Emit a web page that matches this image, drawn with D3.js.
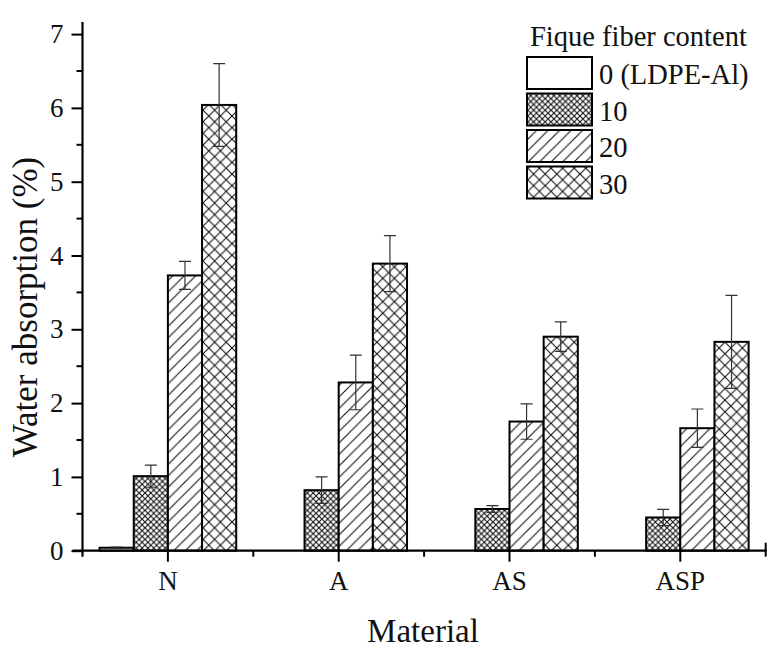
<!DOCTYPE html>
<html><head><meta charset="utf-8">
<script src="https://cdn.jsdelivr.net/npm/d3@7"></script>
<style>body{margin:0;background:#fff}svg{display:block}</style>
</head><body>
<svg id="c" width="775" height="656"></svg>
<script>
const categories = ["N", "A", "AS", "ASP"];
const series = ["0 (LDPE-Al)", "10", "20", "30"];
const values0 = [0.04, null, null, null];
const values10 = [1.01, 0.82, 0.565, 0.45];
const values20 = [3.73, 2.28, 1.75, 1.66];
const values30 = [6.04, 3.89, 2.90, 2.83];
const err0 = [0.01, null, null, null];
const err10 = [0.15, 0.18, 0.045, 0.11];
const err20 = [0.19, 0.37, 0.24, 0.26];
const err30 = [0.56, 0.38, 0.20, 0.63];
const yTicks = [0, 1, 2, 3, 4, 5, 6, 7];
const legendTitle = "Fique fiber content";
const xTitle = "Material";
const yTitle = "Water absorption (%)";

const vals = [values0, values10, values20, values30];
const errs = [err0, err10, err20, err30];
const patterns = ["none", "fine", "diag", "coarse"];

const svg = d3.select("#c");
const pLeft = 82.5, pRight = 765.7, pTop = 22, pBottom = 550.7;
const y = d3.scaleLinear().domain([0, 7]).range([pBottom, pBottom - 7 * 73.8]);
const x0 = d3.scaleBand().domain(categories).range([pLeft, pRight]).padding(0);
const bw = x0.bandwidth();
const x1 = d3.scaleBand().domain(series).range([bw * 0.1, bw * 0.9]).padding(0);

const defs = svg.append("defs");
function cross(id, s, w) {
  const p = defs.append("pattern").attr("id", id).attr("patternUnits", "userSpaceOnUse")
    .attr("width", s).attr("height", s);
  p.append("rect").attr("width", s).attr("height", s).attr("fill", "#fff");
  p.append("path").attr("d", `M0,0L${s},${s}M0,${s}L${s},0`).attr("stroke", "#111").attr("stroke-width", w);
}
cross("fine", 5.8, 1.1);
cross("coarse", 11.6, 1.1);
{
  const s = 11.5;
  const p = defs.append("pattern").attr("id", "diag").attr("patternUnits", "userSpaceOnUse")
    .attr("width", s).attr("height", s);
  p.append("rect").attr("width", s).attr("height", s).attr("fill", "#fff");
  p.append("path").attr("d", `M0,${s}L${s},0M${-s/2},${s/2}L${s/2},${-s/2}M${s/2},${s*1.5}L${s*1.5},${s/2}`)
    .attr("stroke", "#111").attr("stroke-width", 1.1);
}
const fillFor = k => patterns[k] === "none" ? "#fff" : `url(#${patterns[k]})`;

// bars
series.forEach((s, k) => {
  const data = categories.map((c, i) => ({c, v: vals[k][i], e: errs[k][i]})).filter(d => d.v != null);
  svg.append("g").selectAll("rect").data(data).join("rect")
    .attr("x", d => x0(d.c) + x1(s))
    .attr("y", d => y(d.v))
    .attr("width", x1.bandwidth())
    .attr("height", d => y(0) - y(d.v))
    .attr("fill", fillFor(k))
    .attr("stroke", "#000").attr("stroke-width", 2);
});
// error bars
series.forEach((s, k) => {
  const data = categories.map((c, i) => ({c, v: vals[k][i], e: errs[k][i]})).filter(d => d.v != null);
  const g = svg.append("g").attr("stroke", "#333").attr("stroke-width", 1.2).attr("fill", "none");
  data.forEach(d => {
    const cx = x0(d.c) + x1(s) + x1.bandwidth() / 2;
    const cap = 6;
    g.append("path").attr("d",
      `M${cx},${y(d.v + d.e)}L${cx},${y(d.v - d.e)}M${cx - cap},${y(d.v + d.e)}L${cx + cap},${y(d.v + d.e)}M${cx - cap},${y(d.v - d.e)}L${cx + cap},${y(d.v - d.e)}`);
  });
});

// y axis
const yAxis = d3.axisLeft(y).tickValues(yTicks).tickSize(11).tickPadding(8).tickFormat(d3.format("d"));
const gy = svg.append("g").attr("transform", `translate(${pLeft},0)`).call(yAxis);
gy.select(".domain").remove();
gy.selectAll("line").attr("stroke", "#000").attr("stroke-width", 2);
gy.selectAll("text").attr("font-family", "Liberation Serif").attr("font-size", 27).attr("fill", "#111");
const minorY = d3.range(0.5, 7, 1);
svg.append("g").selectAll("line").data(minorY).join("line")
  .attr("x1", pLeft - 6).attr("x2", pLeft).attr("y1", d => y(d)).attr("y2", d => y(d))
  .attr("stroke", "#000").attr("stroke-width", 2);
svg.append("line").attr("x1", pLeft).attr("x2", pLeft).attr("y1", pTop).attr("y2", pBottom + 6)
  .attr("stroke", "#000").attr("stroke-width", 2.2);

// x axis
const xAxis = d3.axisBottom(x0).tickSize(11).tickPadding(9);
const gx = svg.append("g").attr("transform", `translate(0,${pBottom})`).call(xAxis);
gx.select(".domain").remove();
gx.selectAll("line").attr("stroke", "#000").attr("stroke-width", 2);
gx.selectAll("text").attr("font-family", "Liberation Serif").attr("font-size", 27).attr("fill", "#111");
const minorX = categories.map(c => x0(c) + bw);
svg.append("g").selectAll("line").data(minorX).join("line")
  .attr("x1", d => d).attr("x2", d => d).attr("y1", pBottom).attr("y2", pBottom + 6)
  .attr("stroke", "#000").attr("stroke-width", 2);
svg.append("line").attr("x1", pLeft - 10).attr("x2", pRight + 1).attr("y1", pBottom).attr("y2", pBottom)
  .attr("stroke", "#000").attr("stroke-width", 2.2);
svg.append("line").attr("x1", pRight).attr("x2", pRight).attr("y1", pBottom - 8).attr("y2", pBottom)
  .attr("stroke", "#000").attr("stroke-width", 2);

// titles
svg.append("text").attr("x", 423).attr("y", 642).attr("text-anchor", "middle")
  .attr("font-family", "Liberation Serif").attr("font-size", 33).attr("fill", "#111").text(xTitle);
svg.append("text").attr("transform", `translate(37,307) rotate(-90)`).attr("text-anchor", "middle")
  .attr("font-family", "Liberation Serif").attr("font-size", 35).attr("fill", "#111").text(yTitle);

// legend
const lg = svg.append("g");
lg.append("text").attr("x", 530).attr("y", 46).attr("font-family", "Liberation Serif").attr("font-size", 28.5)
  .attr("fill", "#111").text(legendTitle);
series.forEach((s, k) => {
  const yy = 57 + k * 36.5;
  lg.append("rect").attr("x", 527).attr("y", yy).attr("width", 65).attr("height", 32)
    .attr("fill", fillFor(k)).attr("stroke", "#000").attr("stroke-width", 2);
  lg.append("text").attr("x", 599).attr("y", yy + 27).attr("font-family", "Liberation Serif").attr("font-size", 28.5)
    .attr("fill", "#111").text(s);
});
</script>
</body></html>
